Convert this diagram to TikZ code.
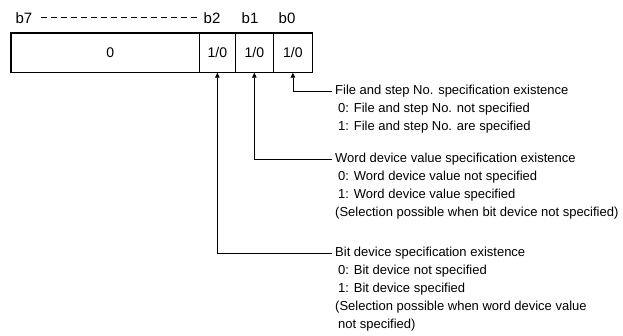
\documentclass[tikz,border=0pt]{standalone}
\usepackage{fontspec}
\setmainfont{Liberation Sans}
\usetikzlibrary{arrows.meta}
\begin{document}
\begin{tikzpicture}[x=1pt,y=-1pt,
  cell/.style={draw,line width=0.7pt,minimum height=39pt,inner sep=0pt,anchor=north west,font=\fontsize{14}{15}\selectfont},
  blabel/.style={font=\fontsize{15}{16}\selectfont,inner sep=0pt},
  txt/.style={font=\fontsize{13}{18}\selectfont,anchor=west,inner sep=0pt},
  arr/.style={line width=0.7pt,-{Triangle[length=5pt,width=4.5pt]}}]
\useasboundingbox (0,0) rectangle (623,336);
% register
\node[cell,minimum width=188pt] (hi) at (11,33) {\hspace{10pt}0};
\node[cell,minimum width=36pt] (c2) at (199,33) {1/0};
\node[cell,minimum width=38pt] (c1) at (235,33) {1/0};
\node[cell,minimum width=39pt] (c0) at (273,33) {1/0};
\draw[line width=1.2pt] (hi.north west) rectangle (c0.south east);
% bit labels
\node[blabel] (b7) at (24,18) {b7};
\node[blabel] (b2) at (212,18) {b2};
\node[blabel] (b1) at (250,18) {b1};
\node[blabel] (b0) at (287,18) {b0};
\draw[line width=1pt,dash pattern=on 6pt off 4pt] ([xshift=8pt]b7.east) -- ([xshift=-6pt]b2.west);
% descriptions
\node[txt] (t0) at (335,91) {File and step No. specification existence};
\node[txt] (t0a) at (338,109) {0: File and step No. not specified};
\node[txt] (t0b) at (338,127) {1: File and step No. are specified};
\node[txt] (t1) at (335,159) {Word device value specification existence};
\node[txt] (t1a) at (338,177) {0: Word device value not specified};
\node[txt] (t1b) at (338,195) {1: Word device value specified};
\node[txt] (t1c) at (335,213) {(Selection possible when bit device not specified)};
\node[txt] (t2) at (335,253) {Bit device specification existence};
\node[txt] (t2a) at (338,271) {0: Bit device not specified};
\node[txt] (t2b) at (338,289) {1: Bit device specified};
\node[txt] (t2c) at (335,307) {(Selection possible when word device value};
\node[txt] (t2d) at (338,325) {not specified)};
% connectors
\draw[arr] ([xshift=-3pt]t0.west) -| (c0.south);
\draw[arr] ([xshift=-3pt]t1.west) -| (c1.south);
\draw[arr] ([xshift=-3pt]t2.west) -| (c2.south);
\end{tikzpicture}
\end{document}
